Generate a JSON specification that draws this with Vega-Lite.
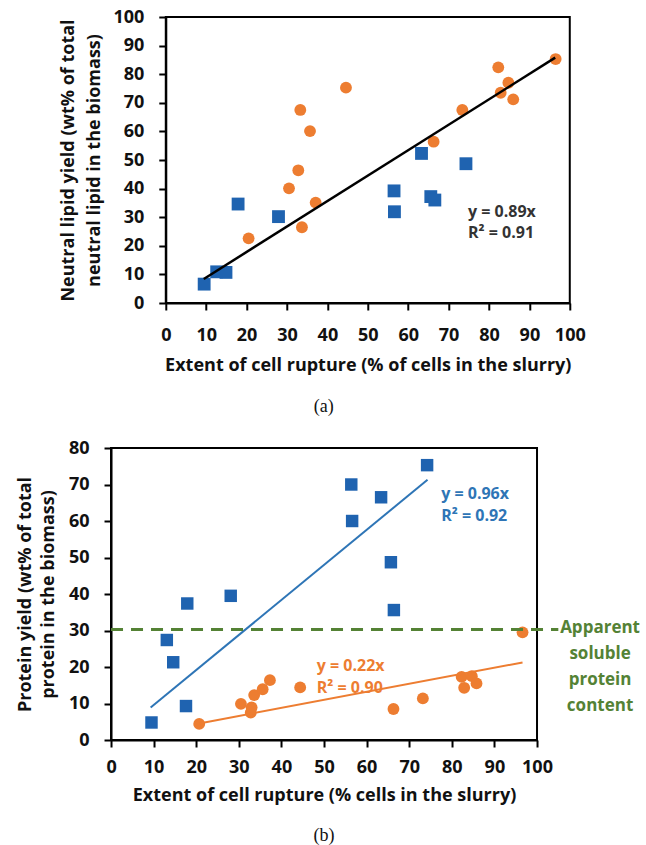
{
  "$schema": "https://vega.github.io/schema/vega-lite/v6.json",
  "background": "white",
  "padding": {"left": 15, "right": 0, "top": 7, "bottom": 0},
  "center": true,
  "bounds": "full",
  "spacing": 21,
  "config": {
    "font": "Open Sans",
    "view": {"stroke": "#000", "strokeWidth": 2},
    "axis": {
      "grid": false,
      "domainColor": "#000",
      "domainWidth": 2,
      "tickColor": "#000",
      "tickWidth": 2,
      "tickSize": 7,
      "labelFont": "Open Sans",
      "labelFontWeight": "bold",
      "labelFontSize": 18,
      "labelColor": "#111",
      "labelFlush": false,
      "labelOverlap": false,
      "titleFont": "Open Sans",
      "titleFontWeight": "bold",
      "titleFontSize": 18,
      "titleColor": "#111"
    },
    "title": {"font": "Liberation Serif", "fontSize": 18, "fontWeight": "normal", "color": "#111", "orient": "bottom"}
  },
  "datasets": {
    "lipid_blue": [
      {"x": 9.5, "y": 6.6}, {"x": 12.6, "y": 10.9}, {"x": 14.9, "y": 10.7}, {"x": 17.9, "y": 34.6},
      {"x": 27.9, "y": 30.2}, {"x": 56.5, "y": 39.2}, {"x": 56.6, "y": 31.9}, {"x": 63.3, "y": 52.3},
      {"x": 65.6, "y": 37.2}, {"x": 66.6, "y": 36.0}, {"x": 74.3, "y": 48.7}
    ],
    "lipid_orange": [
      {"x": 20.5, "y": 22.6}, {"x": 30.5, "y": 40.1}, {"x": 32.8, "y": 46.4}, {"x": 33.3, "y": 67.5},
      {"x": 33.7, "y": 26.5}, {"x": 35.7, "y": 60.1}, {"x": 37.1, "y": 35.1}, {"x": 44.6, "y": 75.3},
      {"x": 66.3, "y": 56.4}, {"x": 73.4, "y": 67.5}, {"x": 82.3, "y": 82.4}, {"x": 82.9, "y": 73.5},
      {"x": 84.8, "y": 77.0}, {"x": 86.0, "y": 71.2}, {"x": 96.5, "y": 85.3}
    ],
    "lipid_fit": [{"x": 9.4, "y": 8.4}, {"x": 96.4, "y": 85.8}],
    "lipid_note": [{"x": 74.8, "y": 31.7, "label": "y = 0.89x|R² = 0.91"}],
    "protein_blue": [
      {"x": 9.5, "y": 4.8}, {"x": 13.1, "y": 27.4}, {"x": 14.6, "y": 21.3}, {"x": 17.9, "y": 37.4},
      {"x": 17.6, "y": 9.3}, {"x": 28.1, "y": 39.5}, {"x": 56.4, "y": 70.0}, {"x": 56.6, "y": 60.0},
      {"x": 63.4, "y": 66.5}, {"x": 65.7, "y": 48.7}, {"x": 66.4, "y": 35.6}, {"x": 74.2, "y": 75.3}
    ],
    "protein_orange": [
      {"x": 20.7, "y": 4.4}, {"x": 30.5, "y": 9.9}, {"x": 32.8, "y": 7.5}, {"x": 33.0, "y": 8.9},
      {"x": 33.6, "y": 12.3}, {"x": 35.6, "y": 13.9}, {"x": 37.3, "y": 16.4}, {"x": 44.4, "y": 14.4},
      {"x": 66.3, "y": 8.5}, {"x": 73.2, "y": 11.4}, {"x": 82.3, "y": 17.3}, {"x": 82.9, "y": 14.3},
      {"x": 84.7, "y": 17.5}, {"x": 85.8, "y": 15.5}, {"x": 96.6, "y": 29.5}
    ],
    "protein_blue_fit": [{"x": 9.3, "y": 8.9}, {"x": 74.3, "y": 71.3}],
    "protein_orange_fit": [{"x": 20.7, "y": 4.55}, {"x": 96.6, "y": 21.25}],
    "soluble": [{"x": 0, "y": 30.3}, {"x": 105, "y": 30.3}],
    "protein_blue_note": [{"x": 77.5, "y": 67.4, "label": "y = 0.96x|R² = 0.92"}],
    "protein_orange_note": [{"x": 48.3, "y": 20.3, "label": "y = 0.22x|R² = 0.90"}],
    "soluble_note": [{"x": 114.8, "y": 30.8, "label": "Apparent|soluble|protein|content"}]
  },
  "vconcat": [
    {
      "width": 404,
      "height": 286,
      "title": {"text": "(a)", "dx": -44, "offset": 24},
      "encoding": {
        "x": {
          "field": "x", "type": "quantitative",
          "scale": {"domain": [0, 100], "nice": false},
          "axis": {"values": [0, 10, 20, 30, 40, 50, 60, 70, 80, 90, 100], "labelPadding": 16, "titlePadding": 12,
                   "title": "Extent of cell rupture (% of cells in the slurry)"}
        },
        "y": {
          "field": "y", "type": "quantitative",
          "scale": {"domain": [0, 100], "nice": false},
          "axis": {"values": [0, 10, 20, 30, 40, 50, 60, 70, 80, 90, 100], "labelPadding": 15, "titlePadding": 9,
                   "titleLineHeight": 26,
                   "title": ["Neutral lipid yield (wt% of total", "neutral lipid in the biomass)"]}
        }
      },
      "layer": [
        {"data": {"name": "lipid_orange"}, "mark": {"type": "circle", "size": 140, "opacity": 1, "color": "#ED7D31"}},
        {"data": {"name": "lipid_blue"}, "mark": {"type": "square", "size": 165, "opacity": 1, "color": "#1F63B0"}},
        {"data": {"name": "lipid_fit"}, "mark": {"type": "line", "color": "#000", "strokeWidth": 2.5}},
        {
          "data": {"name": "lipid_note"},
          "mark": {"type": "text", "align": "left", "baseline": "middle", "lineBreak": "|",
                   "lineHeight": 21, "fontSize": 16, "fontWeight": "bold", "color": "#333"},
          "encoding": {"text": {"field": "label"}}
        }
      ]
    },
    {
      "width": 426,
      "height": 292,
      "title": {"text": "(b)", "offset": 23},
      "encoding": {
        "x": {
          "field": "x", "type": "quantitative",
          "scale": {"domain": [0, 100], "nice": false},
          "axis": {"values": [0, 10, 20, 30, 40, 50, 60, 70, 80, 90, 100], "labelPadding": 11, "titlePadding": 10,
                   "title": "Extent of cell rupture (%  cells in the slurry)"}
        },
        "y": {
          "field": "y", "type": "quantitative",
          "scale": {"domain": [0, 80], "nice": false},
          "axis": {"values": [0, 10, 20, 30, 40, 50, 60, 70, 80], "labelPadding": 15, "titlePadding": 11,
                   "titleLineHeight": 23,
                   "title": ["Protein yield (wt% of total", "protein in the biomass)"]}
        }
      },
      "layer": [
        {"data": {"name": "protein_blue"}, "mark": {"type": "square", "size": 155, "opacity": 1, "color": "#1F63B0"}},
        {"data": {"name": "protein_orange"}, "mark": {"type": "circle", "size": 140, "opacity": 1, "color": "#ED7D31"}},
        {"data": {"name": "protein_blue_fit"}, "mark": {"type": "line", "color": "#2E75B6", "strokeWidth": 2}},
        {"data": {"name": "protein_orange_fit"}, "mark": {"type": "line", "color": "#ED7D31", "strokeWidth": 2}},
        {"data": {"name": "soluble"}, "mark": {"type": "line", "color": "#548235", "strokeWidth": 3, "strokeDash": [12, 8]}},
        {
          "data": {"name": "protein_blue_note"},
          "mark": {"type": "text", "align": "left", "baseline": "middle", "lineBreak": "|",
                   "lineHeight": 22, "fontSize": 16, "fontWeight": "bold", "color": "#2E75B6"},
          "encoding": {"text": {"field": "label"}}
        },
        {
          "data": {"name": "protein_orange_note"},
          "mark": {"type": "text", "align": "left", "baseline": "middle", "lineBreak": "|",
                   "lineHeight": 22, "fontSize": 16, "fontWeight": "bold", "color": "#ED7D31"},
          "encoding": {"text": {"field": "label"}}
        },
        {
          "data": {"name": "soluble_note"},
          "mark": {"type": "text", "align": "center", "baseline": "middle", "lineBreak": "|",
                   "lineHeight": 26, "fontSize": 17, "fontWeight": "bold", "color": "#548235"},
          "encoding": {"text": {"field": "label"}}
        }
      ]
    }
  ]
}
